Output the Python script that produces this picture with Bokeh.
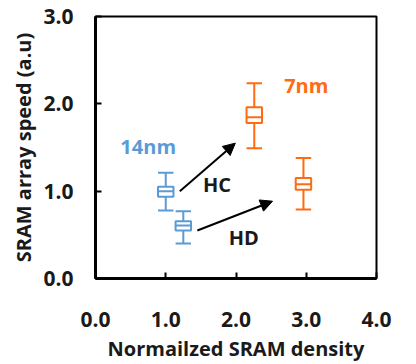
from bokeh.plotting import figure
from bokeh.models import ColumnDataSource, Range1d, FixedTicker, Arrow, NormalHead, Label
from bokeh.embed import file_html
from bokeh.resources import INLINE

# data
density = [1.0, 1.25, 2.26, 2.96]
whisk_low = [0.78, 0.40, 1.49, 0.79]
q1 = [0.935, 0.55, 1.78, 1.015]
median = [1.0, 0.606, 1.845, 1.08]
q3 = [1.05, 0.656, 1.96, 1.15]
whisk_high = [1.21, 0.77, 2.235, 1.38]
colors = ["#5B9BD5", "#5B9BD5", "#FF6A13", "#FF6A13"]
x_ticks = [0.0, 1.0, 2.0, 3.0, 4.0]
y_ticks = [0.0, 1.0, 2.0, 3.0]
tick_labels_x = {0.0: "0.0", 1.0: "1.0", 2.0: "2.0", 3.0: "3.0", 4.0: "4.0"}
tick_labels_y = {0.0: "0.0", 1.0: "1.0", 2.0: "2.0", 3.0: "3.0"}

FONT = "Open Sans"
BOX_W = 0.22

p = figure(width=410, height=364, output_backend="svg", toolbar_location=None,
           x_range=Range1d(0, 4), y_range=Range1d(0, 3),
           min_border_left=95, min_border_right=34, min_border_top=16, min_border_bottom=84)
p.background_fill_color = "white"
p.border_fill_color = "white"
p.grid.visible = False
p.outline_line_color = "black"
p.outline_line_width = 2

src = ColumnDataSource(dict(x=density, lo=whisk_low, q1=q1, med=median, q3=q3, hi=whisk_high,
                            c=colors,
                            xl=[d - BOX_W / 2 for d in density],
                            xr=[d + BOX_W / 2 for d in density]))

p.segment(x0="x", y0="q3", x1="x", y1="hi", color="c", line_width=2, source=src)
p.segment(x0="x", y0="lo", x1="x", y1="q1", color="c", line_width=2, source=src)
p.segment(x0="xl", y0="hi", x1="xr", y1="hi", color="c", line_width=2, source=src)
p.segment(x0="xl", y0="lo", x1="xr", y1="lo", color="c", line_width=2, source=src)
p.quad(left="xl", right="xr", bottom="q1", top="q3", fill_color="white",
       line_color="c", line_width=2, source=src)
p.segment(x0="xl", y0="med", x1="xr", y1="med", color="c", line_width=2, source=src)

# arrows
arrow_start_x = [1.2, 1.45]
arrow_start_y = [1.0, 0.55]
arrow_end_x = [1.99, 2.52]
arrow_end_y = [1.55, 0.885]
for sx, sy, ex, ey in zip(arrow_start_x, arrow_start_y, arrow_end_x, arrow_end_y):
    p.add_layout(Arrow(end=NormalHead(size=12, fill_color="black", line_color="black"),
                       x_start=sx, y_start=sy, x_end=ex, y_end=ey,
                       line_color="black", line_width=2))

labels = [("14nm", 0.75, 1.515, "#5B9BD5"), ("7nm", 3.0, 2.215, "#FF6A13"),
          ("HC", 1.73, 1.08, "#1a1a1a"), ("HD", 2.11, 0.466, "#1a1a1a")]
for t, x, y, c in labels:
    p.add_layout(Label(x=x, y=y, text=t, text_color=c, text_font=FONT, text_font_style="bold",
                       text_font_size="20px", text_align="center", text_baseline="middle"))

for ax, ticks, lab in ((p.xaxis, x_ticks, tick_labels_x), (p.yaxis, y_ticks, tick_labels_y)):
    ax.ticker = FixedTicker(ticks=ticks)
    ax.major_label_overrides = lab
    ax.axis_line_width = 3
    ax.axis_line_color = "black"
    ax.major_tick_in = 6
    ax.major_tick_out = 0
    ax.major_tick_line_width = 2
    ax.minor_tick_line_color = None
    ax.major_label_text_font = FONT
    ax.major_label_text_font_style = "bold"
    ax.major_label_text_font_size = "21px"
    ax.major_label_text_color = "#1a1a1a"
    ax.axis_label_text_font = FONT
    ax.axis_label_text_font_style = "bold"
    ax.axis_label_text_font_size = "20px"
    ax.axis_label_text_color = "#1a1a1a"

p.xaxis.axis_label = "Normailzed SRAM density"
p.yaxis.axis_label = "SRAM array speed (a.u)"
p.xaxis.major_label_standoff = 33
p.yaxis.major_label_standoff = 22
p.xaxis.axis_label_standoff = 5
p.yaxis.axis_label_standoff = 3

open("out.html", "w").write(file_html(p, INLINE))
